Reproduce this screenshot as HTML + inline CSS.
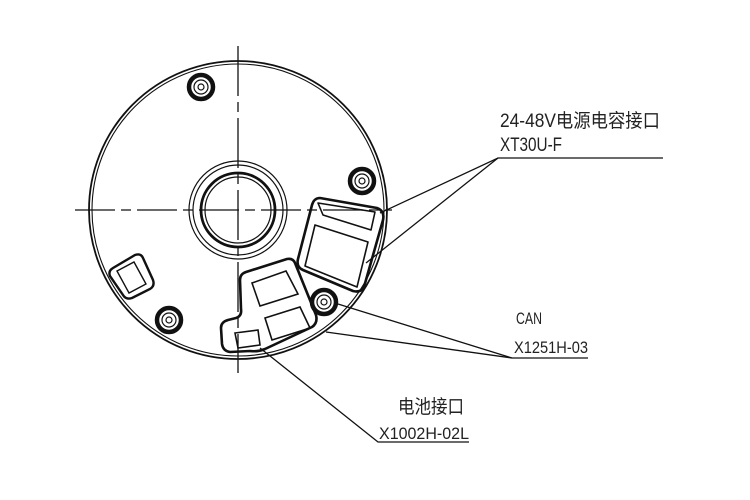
<!DOCTYPE html>
<html><head><meta charset="utf-8"><style>html,body{margin:0;padding:0;background:#fff}svg{display:block}</style></head>
<body>
<svg width="750" height="500" viewBox="0 0 750 500" xmlns="http://www.w3.org/2000/svg">
<g fill="none" stroke="#111">
  <line x1="238" y1="46" x2="238" y2="373" stroke-width="1.3" stroke-dasharray="50,6,10,6"/>
  <line x1="75" y1="210" x2="392" y2="210" stroke-width="1.3" stroke-dasharray="40,6,10,6"/>
  <circle cx="238" cy="210" r="149" stroke-width="1.8"/>
  <circle cx="238" cy="210" r="146" stroke-width="1.1"/>
  <circle cx="238" cy="210" r="49" stroke-width="1.2"/>
  <circle cx="238" cy="210" r="45" stroke-width="1.2"/>
  <circle cx="238" cy="210" r="37" stroke-width="2.8"/>
  <circle cx="238" cy="210" r="33" stroke-width="1.2"/>
  <g stroke-width="1.2">
    <circle cx="201" cy="87" r="12" stroke-width="4.5"/><circle cx="201" cy="87" r="7"/><circle cx="201" cy="87" r="3"/>
    <circle cx="362" cy="181" r="12" stroke-width="4.5"/><circle cx="362" cy="181" r="7"/><circle cx="362" cy="181" r="3"/>
    <circle cx="324" cy="302" r="12" stroke-width="4.5"/><circle cx="324" cy="302" r="7"/><circle cx="324" cy="302" r="3"/>
    <circle cx="169" cy="320" r="12" stroke-width="4.5"/><circle cx="169" cy="320" r="7"/><circle cx="169" cy="320" r="3"/>
  </g>
  <path d="M320,198 L377,208 Q385,211 383,220 L364,287 Q361,293 353,291 L303,270 Q296,267 298,259 L312,205 Q314,198 320,198 Z" stroke-width="2.6" stroke-linejoin="round"/>
  <path d="M318,203 L375,212 L371,230 L323,215 Z" stroke-width="1.6" stroke-linejoin="round"/>
  <path d="M315,225 L368,242 L357,287 L305,266 Z" stroke-width="1.6" stroke-linejoin="round"/>
  <path d="M113,268 L135,255 Q141,253 143,258 L153,280 Q155,286 150,289 L132,298 Q126,300 123,295 L110,276 Q108,271 113,268 Z" stroke-width="2.4"/>
  <path d="M117,271 L134,262 L146,284 L129,293 Z" stroke-width="1.4"/>
  <path d="M246,272 L287,259 Q293,258 295,263 L316,315 Q318,323 312,327 L265,349 Q258,352 250,351 L230,352 Q223,351 222,344 L221,328 Q221,322 228,320 L236,318 Q242,316 241,309 L240,280 Q240,274 246,272 Z" stroke-width="2.6" stroke-linejoin="round"/>
  <path d="M252,283 L286,271 L298,294 L260,306 Z" stroke-width="1.6"/>
  <path d="M265,318 L300,307 L310,328 L272,340 Z" stroke-width="1.6"/>
  <path d="M235,333 L258,330 L260,345 L238,348 Z" stroke-width="1.6"/>
  <g stroke-width="1.3">
    <polyline points="380,213 498,158 663,158"/>
    <line x1="498" y1="158" x2="366" y2="263"/>
    <polyline points="338,304 512,358 588,358"/>
    <line x1="512" y1="358" x2="326" y2="332"/>
    <polyline points="260,348 378,442 469,442"/>
  </g>
</g>
<g font-family="'Liberation Sans','Noto Sans CJK SC',sans-serif" fill="#222">
  <text x="500" y="127" font-size="19" textLength="160" lengthAdjust="spacingAndGlyphs">24-48V电源电容接口</text>
  <text x="500" y="151" font-size="19" textLength="62" lengthAdjust="spacingAndGlyphs">XT30U-F</text>
  <text x="516" y="324" font-size="17" textLength="26" lengthAdjust="spacingAndGlyphs">CAN</text>
  <text x="514" y="353" font-size="17" textLength="74" lengthAdjust="spacingAndGlyphs">X1251H-03</text>
  <text x="398" y="413" font-size="19" textLength="66" lengthAdjust="spacingAndGlyphs">电池接口</text>
  <text x="379" y="439" font-size="17" textLength="90" lengthAdjust="spacingAndGlyphs">X1002H-02L</text>
</g>
</svg>
</body></html>
